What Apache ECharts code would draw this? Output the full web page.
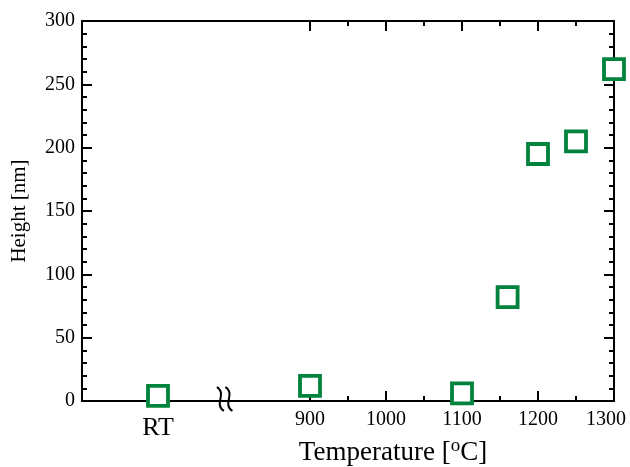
<!DOCTYPE html>
<html>
<head>
<meta charset="utf-8">
<script src="https://cdn.jsdelivr.net/npm/echarts@6/dist/echarts.min.js"></script>
<style>
  html, body { margin: 0; padding: 0; background: #fff; }
  #chart { width: 630px; height: 467px; }
</style>
</head>
<body>
<div id="chart"></div>
<script>
// data
const temps = ['RT', 900, 1100, 1160, 1200, 1250, 1300];
const heights = [4, 12, 6, 82, 195, 205, 262];
const rtAt = 700;      // where RT sits on the broken axis
const breakAt = 790;   // where the axis break is drawn
const majorTicks = [900, 1000, 1100, 1200, 1300];
const minorTicks = [950, 1050, 1150, 1250];

const font = 'Liberation Serif';
const green = '#00843d';

const points = temps.map((t, i) => [t === 'RT' ? rtAt : t, heights[i]]);

function xAx(pos, ticks, len, label) {
  return {
    type: 'value', position: pos, min: 600, max: 1300,
    axisLine: { show: true, onZero: false, lineStyle: { color: '#000', width: 2 } },
    axisTick: { show: true, inside: true, length: len, customValues: ticks, lineStyle: { color: '#000', width: 2 } },
    axisLabel: label ? {
      show: true, margin: 9, customValues: [rtAt].concat(majorTicks),
      showMaxLabel: true, showMinLabel: true,
      fontFamily: font, fontSize: 20, color: '#000',
      formatter: v => v === rtAt ? '{rt|RT}' : (v === 1300 ? '{last|1300}' : String(v)),
      rich: {
        rt: { fontFamily: font, fontSize: 26, color: '#000', padding: [5, 0, 0, 0] },
        last: { fontFamily: font, fontSize: 20, color: '#000', padding: [0, 16, 0, 0] }
      }
    } : { show: false },
    splitLine: { show: false }
  };
}

function yAx(pos, label) {
  return {
    type: 'value', position: pos, min: 0, max: 300, interval: 50,
    axisLine: { show: true, onZero: false, lineStyle: { color: '#000', width: 2 } },
    axisTick: { show: true, inside: true, length: 10, lineStyle: { color: '#000', width: 2 } },
    minorTick: { show: true, splitNumber: 5, length: 5, lineStyle: { color: '#000', width: 2 } },
    axisLabel: label ? { show: true, margin: 7, fontFamily: font, fontSize: 20, color: '#000' } : { show: false },
    splitLine: { show: false },
    minorSplitLine: { show: false }
  };
}

const xAxes = [
  xAx('bottom', majorTicks, 10, true),
  xAx('bottom', minorTicks, 5, false),
  xAx('top', majorTicks, 10, false),
  xAx('top', minorTicks, 5, false)
];
xAxes[0].name = 'Temperature [{sup|o}C]';
xAxes[0].nameLocation = 'middle';
xAxes[0].nameGap = 36;
xAxes[0].nameMoveOverlap = false;
xAxes[0].nameTextStyle = {
  fontFamily: font, fontSize: 27, color: '#000', padding: [0, 0, 0, 90],
  rich: { sup: { fontFamily: font, fontSize: 19, color: '#000', verticalAlign: 'top', padding: [0, 0, 12, 0] } }
};

const yAxes = [yAx('left', true), yAx('right', false)];
yAxes[0].name = 'Height [nm]';
yAxes[0].nameLocation = 'middle';
yAxes[0].nameGap = 52;
yAxes[0].nameMoveOverlap = false;
yAxes[0].nameTextStyle = { fontFamily: font, fontSize: 21, color: '#000' };

const chart = echarts.init(document.getElementById('chart'));
chart.setOption({
  animation: false,
  backgroundColor: '#fff',
  grid: { left: 82, right: 16, top: 21, bottom: 66, containLabel: false, outerBoundsMode: 'none' },
  xAxis: xAxes,
  yAxis: yAxes,
  series: [{
    type: 'scatter',
    data: points,
    clip: false,
    symbol: 'rect',
    symbolSize: 20,
    itemStyle: { color: '#fff', borderColor: green, borderWidth: 3.8, opacity: 1 },
    z: 5
  }]
});

// axis break mark
const bp = chart.convertToPixel({ xAxisIndex: 0, yAxisIndex: 0 }, [breakAt, 0]);
function wave(cx, cy) {
  return {
    type: 'bezierCurve',
    shape: { x1: cx - 3.5, y1: cy - 12, cpx1: cx + 7, cpy1: cy - 5, cpx2: cx - 7, cpy2: cy + 5, x2: cx + 3.5, y2: cy + 12 },
    style: { stroke: '#000', lineWidth: 2, fill: null },
    z: 10
  };
}
chart.setOption({
  graphic: [wave(bp[0] - 6, bp[1] - 2), wave(bp[0] + 2.5, bp[1] - 2)]
});
</script>
</body>
</html>
